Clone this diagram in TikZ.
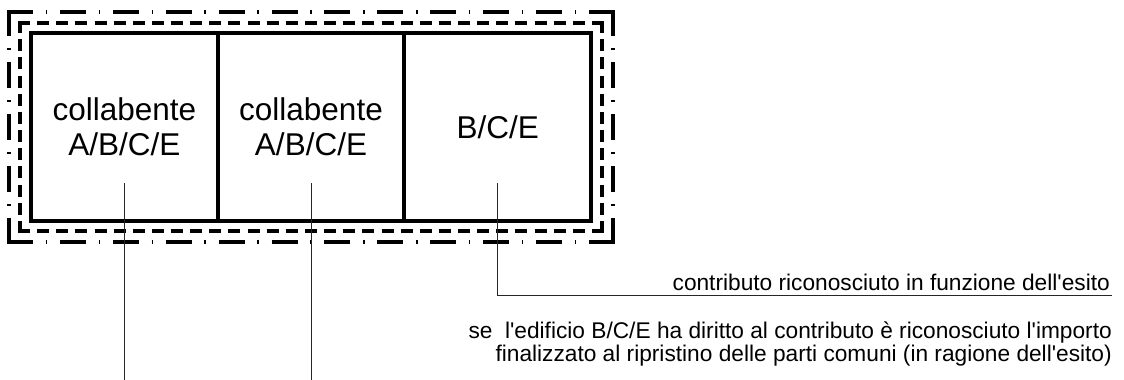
\documentclass[tikz,border=0pt]{standalone}
\usepackage{fontspec}
\setmainfont{Liberation Sans}[Ligatures=TeXOff]
\begin{document}
\begin{tikzpicture}[x=1pt,y=-1pt,
  cell/.style={draw,line width=4pt,minimum width=186.67pt,minimum height=188pt,
    inner sep=0pt,align=center,font=\fontsize{31.5}{35}\selectfont},
  leader/.style={line width=0.9pt,black!85},
  note/.style={inner sep=0pt,font=\fontsize{22.7}{22.5}\selectfont},
  ddh/.style={line width=4.2pt,dash pattern=on 26pt off 12.7pt on 1.5pt off 12.7pt},
  ddv/.style={line width=4.2pt,dash pattern=on 26pt off 12.25pt on 1.5pt off 12.25pt},
  dsh/.style={line width=4.2pt,dash pattern=on 12pt off 7.133pt},
  dsv/.style={line width=4.2pt,dash pattern=on 12pt off 6.18pt}]
\useasboundingbox (0,0) rectangle (1124,380);
% outer dash-dot frame
\draw[ddh] (7,12) -- (615,12);
\draw[ddh] (7,242) -- (615,242);
\draw[ddv] (9,10) -- (9,244);
\draw[ddv] (613,10) -- (613,244);
% dashed frame
\draw[dsh] (18,23) -- (604,23);
\draw[dsh] (18,231) -- (604,231);
\draw[dsv] (20,21) -- (20,233);
\draw[dsv] (602,21) -- (602,233);
% cells
\node[cell] (c1) at (124.33,127) {collabente\\A/B/C/E};
\node[cell] (c2) at (311,127) {collabente\\A/B/C/E};
\node[cell] (c3) at (497.67,127) {B/C/E};
% leaders
\coordinate (p1) at (124.33,183); \coordinate (q1) at (124.33,380);
\coordinate (p2) at (311,183);    \coordinate (q2) at (311,380);
\coordinate (p3) at (497.67,183); \coordinate (e3) at (1112,295);
\draw[leader] (p1) -- (q1);
\draw[leader] (p2) -- (q2);
\draw[leader] (p3) |- (e3);
% notes
\node[note,anchor=base east] (t1) at (1110,290) {contributo riconosciuto in funzione dell'esito};
\node[note,anchor=north east,align=right] (t2) at (1112,322) {se\ \ l'edificio B/C/E ha diritto al contributo è riconosciuto l'importo\\finalizzato al ripristino delle parti comuni (in ragione dell'esito)};
\end{tikzpicture}
\end{document}
